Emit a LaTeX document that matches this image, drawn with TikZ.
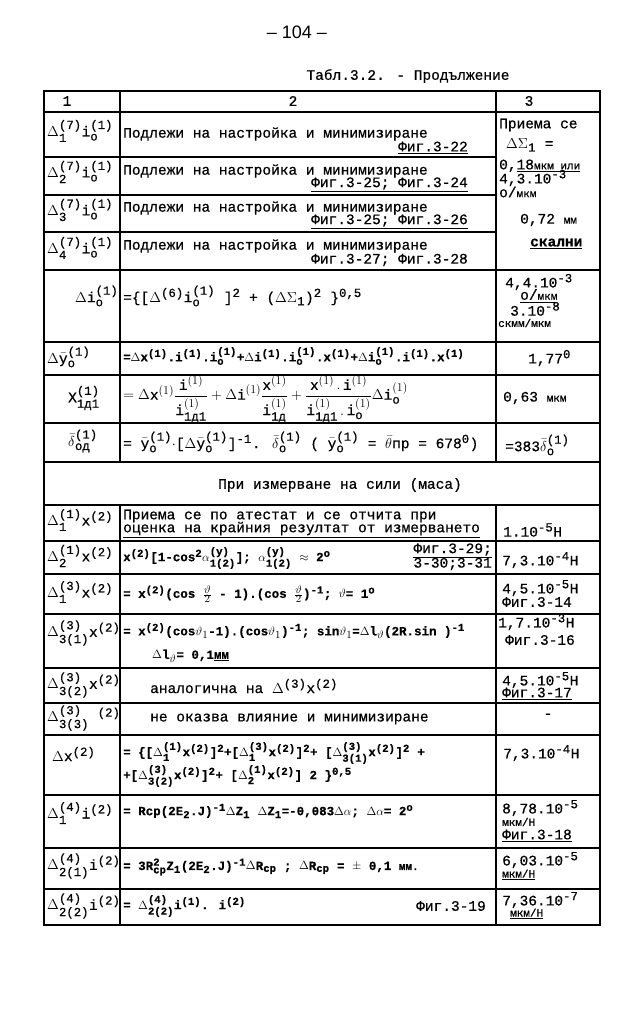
\documentclass[tikz,border=0pt]{standalone}
\usepackage{fontspec}
\usepackage{amsmath}
\setmainfont{Liberation Mono}[FakeBold=0.6]
\setsansfont{Liberation Sans}
\def\defaultscriptratio{.85}
\newcommand\D{$\Delta$}
\newcommand\up[1]{$^{\text{#1}}$}
\newcommand\dn[1]{$_{\text{#1}}$}
\newcommand\ud[2]{$^{\text{#1}}_{\text{#2}}$}
\newcommand\sm[1]{{\fontsize{11}{12}\selectfont #1}}
\begin{document}
\begin{tikzpicture}[x=1pt, y=-1pt, font=\fontsize{14.5}{16}\selectfont,
    rule/.style={line width=1.6pt},
    txt/.style={right, inner sep=0},
    fig/.style={left, inner sep=0},
    mid/.style={inner sep=0},
    frm/.style={right, inner sep=0, font=\fontsize{12.5}{14}\selectfont\bfseries}]
    \useasboundingbox (0,0) rectangle (631,1016);

    \node[mid, font=\fontsize{18}{20}\selectfont\sffamily] (page) at (297,32) {– 104 –};
    \node[mid] (caption) at (408,76) {Табл.3.2. - Продължение};

    \draw[rule] (44,91) rectangle (600,925);
    \foreach \y in {112,270,342,375,423,462,505,541,574,614,668,703,735,795,848,889}
        \draw[rule] (44,\y) -- (600,\y);
    \foreach \y in {157,195,232}
        \draw[rule] (44,\y) -- (496,\y);
    \foreach \x in {120,496} {
        \draw[rule] (\x,91) -- (\x,462);
        \draw[rule] (\x,505) -- (\x,925);
    }

    \node[mid] (h1) at (67,101) {1};
    \node[mid] (h2) at (293,101) {2};
    \node[mid] (h3) at (529,101) {3};

    \node[txt] (a1) at (47,131) {\D\ud{(7)}{1}i\ud{(1)}{o}};
    \node[txt] (b1) at (123,134) {Подлежи на настройка и минимизиране};
    \node[fig] (f1) at (468,148) {\underline{Фиг.3-22}};
    \node[txt] (a2) at (47,172) {\D\ud{(7)}{2}i\ud{(1)}{o}};
    \node[txt] (b2) at (123,171) {Подлежи  на настройка и минимизиране};
    \node[fig] (f2) at (468,185) {\underline{Фиг.3-25; Фиг.3-24}};
    \node[txt] (a3) at (47,210) {\D\ud{(7)}{3}i\ud{(1)}{o}};
    \node[txt] (b3) at (123,208) {Подлежи на настройка и минимизиране};
    \node[fig] (f3) at (468,222) {\underline{Фиг.3-25; Фиг.3-26}};
    \node[txt] (a4) at (47,248) {\D\ud{(7)}{4}i\ud{(1)}{o}};
    \node[txt] (b4) at (123,246) {Подлежи на настройка и минимизиране};
    \node[fig] (f4) at (468,260) {Фиг.3-27; Фиг.3-28};

    \node[txt] (c1) at (499,125) {Приема се};
    \node[txt] (c2) at (506,145) {\D$\Sigma$\dn{1} =};
    \node[txt] (c3) at (499,166) {0,\underline{18\sm{мкм или}}};
    \node[txt] (c4) at (499,178) {4,3.10\up{-3}};
    \node[txt] (c5) at (499,192) {о/\sm{мкм}};
    \node[txt] (c6) at (520,220) {0,72 \sm{мм}};
    \node[txt] (c7) at (530,244) {\underline{\bfseries скални}};

    \node[txt] (a5) at (75,296) {\D i\ud{(1)}{o}};
    \node[txt] (b5) at (123,296) {=\{[\D\up{(6)}i\ud{(1)}{o} ]\up{2} + (\D$\Sigma$\dn{1})\up{2} \}\up{0,5}};
    \node[txt] (c8) at (505,282) {4,4.10\up{-3}};
    \node[txt] (c9) at (520,296) {\underline{о/\sm{мкм}}};
    \node[txt] (c10) at (510,309) {3.10\up{-8}};
    \node[txt] (c11) at (498,323) {\sm{скмм/мкм}};

    \node[txt] (a6) at (47,357) {\D$\bar{\text{y}}$\ud{(1)}{o}};
    \node[frm] (b6) at (123,356) {=\D x\up{(1)}.i\up{(1)}.i\ud{(1)}{o}+\D i\up{(1)}.i\ud{(1)}{o}.x\up{(1)}+\D i\ud{(1)}{o}.i\up{(1)}.x\up{(1)}};
    \node[txt] (c12) at (528,358) {1,77\up{0}};

    \node[txt] (a7) at (68,398) {X\ud{(1)}{1д1}};
    \node[txt] (b7) at (123,399) {$=\Delta\text{x}^{(1)}\dfrac{\text{i}^{(1)}}{\text{i}^{(1)}_{\text{1д1}}}
        +\Delta\text{i}^{(1)}\dfrac{\text{x}^{(1)}}{\text{i}^{(1)}_{\text{1д}}}
        +\dfrac{\text{x}^{(1)}\,.\,\text{i}^{(1)}}{\text{i}^{(1)}_{\text{1д1}}\,.\,\text{i}^{(1)}_{\text{o}}}
        \Delta\text{i}^{(1)}_{\text{o}}$};
    \node[txt] (c13) at (503,398) {0,63 \sm{мкм}};

    \node[txt] (a8) at (68,441) {$\bar\delta$\ud{(1)}{од}};
    \node[txt] (b8) at (123,442) {= $\bar{\text{y}}$\ud{(1)}{o}$\cdot$[\D$\bar{\text{y}}$\ud{(1)}{o}]\up{-1}. $\bar\delta$\ud{(1)}{o}  ( $\bar{\text{y}}$\ud{(1)}{o} = $\bar\theta$пр = 678\up{0})};
    \node[txt] (c14) at (505,445) {=383$\bar\delta$\ud{(1)}{o}};

    \node[mid] (sec) at (340,485) {При измерване на сили (маса)};

    \node[txt] (a10) at (47,520) {\D\ud{(1)}{1}x\up{(2)}};
    \node[txt] (b10) at (123,516) {Приема се по атестат и се отчита при};
    \node[txt] (b10b) at (123,530) {\underline{оценка на крайния резултат от измерването}};
    \node[txt] (c15) at (503,530) {1.10\up{-5}Н};

    \node[txt] (a11) at (47,556) {\D\ud{(1)}{2}x\up{(2)}};
    \node[frm] (b11) at (123,558) {x\up{(2)}[1-cos\up{2}$\alpha$\ud{(y)}{1(2)}]; $\alpha$\ud{(y)}{1(2)} $\approx$ 2\up{o}};
    \node[fig] (f11) at (492,551) {\underline{Фиг.3-29;}};
    \node[fig] (f11b) at (492,564) {3-30;3-31};
    \node[txt] (c16) at (502,560) {7,3.10\up{-4}Н};

    \node[txt] (a12) at (47,592) {\D\ud{(3)}{1}x\up{(2)}};
    \node[frm] (b12) at (123,594) {= x\up{(2)}(cos $\frac{\vartheta}{2}$ - 1).(cos $\frac{\vartheta}{2}$)\up{-1};  $\vartheta$= 1\up{o}};
    \node[txt] (c17) at (502,588) {4,5.10\up{-5}Н};
    \node[txt] (c18) at (502,602) {Фиг.3-14};

    \node[txt] (a13) at (47,633) {\D\ud{(3)}{3(1)}x\up{(2)}};
    \node[frm] (b13) at (123,631) {= x\up{(2)}(cos$\vartheta_1$-1).(cos$\vartheta_1$)\up{-1}; sin$\vartheta_1$=\D l$_\vartheta$(2R.sin )\up{-1}};
    \node[frm] (b13b) at (152,656) {\D l$_\vartheta$= 0,1\underline{мм}};
    \node[txt] (c19) at (498,622) {1,7.10\up{-3}Н};
    \node[txt] (c20) at (505,640) {Фиг.3-16};

    \node[txt] (a14) at (47,685) {\D\ud{(3)}{3(2)}x\up{(2)}};
    \node[txt] (b14) at (150,686) {аналогична на \D\up{(3)}x\up{(2)}};
    \node[txt] (c21) at (502,680) {4,5.10\up{-5}Н};
    \node[txt] (c22) at (502,694) {\underline{Фиг.3-17}};

    \node[txt] (a15) at (47,718) {\D\ud{(3)}{3(3)}\phantom{x}\up{(2)}};
    \node[txt] (b15) at (150,719) {не оказва влияние и минимизиране};
    \node[mid] (c23) at (548,716) {-};

    \node[txt] (a16) at (52,754) {\D x\up{(2)}};
    \node[frm] (b16) at (123,753) {= \{[\D\ud{(1)}{1}x\up{(2)}]\up{2}+[\D\ud{(3)}{1}x\up{(2)}]\up{2}+ [\D\ud{(3)}{3(1)}x\up{(2)}]\up{2} +};
    \node[frm] (b16b) at (123,776) {+[\D\ud{(3)}{3(2)}x\up{(2)}]\up{2}+ [\D\ud{(1)}{2}x\up{(2)}] 2 \}\up{0,5}};
    \node[txt] (c24) at (503,753) {7,3.10\up{-4}Н};

    \node[txt] (a17) at (47,813) {\D\ud{(4)}{1}i\up{(2)}};
    \node[frm] (b17) at (123,811) {= Rcp(2E\dn{2}.J)\up{-1}\D Z\dn{1}   \D Z\dn{1}=-0,083\D$\alpha$; \D$\alpha$= 2\up{o}};
    \node[txt] (c25) at (502,808) {8,78.10\up{-5}};
    \node[txt] (c26) at (502,822) {\sm{мкм/Н}};
    \node[txt] (c27) at (502,836) {\underline{Фиг.3-18}};

    \node[txt] (a18) at (47,866) {\D\ud{(4)}{2(1)}i\up{(2)}};
    \node[frm] (b18) at (123,867) {= 3R\ud{2}{cp}Z\dn{1}(2E\dn{2}.J)\up{-1}\D R\dn{cp} ; \D R\dn{cp} = $\pm$ 0,1 \sm{мм.}};
    \node[txt] (c28) at (502,860) {6,03.10\up{-5}};
    \node[txt] (c29) at (502,875) {\underline{\sm{мкм/Н}}};

    \node[txt] (a19) at (47,906) {\D\ud{(4)}{2(2)}i\up{(2)}};
    \node[frm] (b19) at (123,906) {= \D\ud{(4)}{2(2)}i\up{(1)}. i\up{(2)}};
    \node[fig] (f19) at (486,906) {Фиг.3-19};
    \node[txt] (c30) at (502,900) {7,36.10\up{-7}};
    \node[txt] (c31) at (510,914) {\underline{\sm{мкм/Н}}};
\end{tikzpicture}
\end{document}
